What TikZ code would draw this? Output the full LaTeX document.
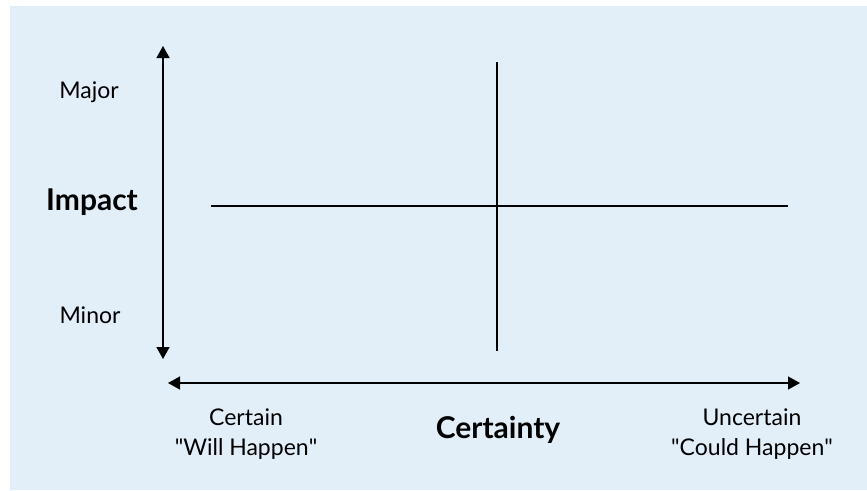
\documentclass[tikz,border=0pt]{standalone}
\usepackage{fontspec}
\setmainfont{Lato}
\usetikzlibrary{arrows.meta}
\definecolor{bgblue}{HTML}{E2EEF8}
\begin{document}
\begin{tikzpicture}[x=1pt,y=-1pt,
  tip/.style={-{Triangle[length=12pt,width=13pt]}},
  axisline/.style={line width=1.4pt, {Triangle[length=12pt,width=13pt]}-{Triangle[length=12pt,width=13pt]}},
  crossline/.style={line width=1.4pt},
  smalllabel/.style={font=\fontsize{23}{30}\selectfont, align=center, inner sep=0pt},
  biglabel/.style={font=\fontsize{30}{32}\selectfont\bfseries, inner sep=0pt}]
\useasboundingbox (0,0) rectangle (867,490);
\fill[bgblue] (10,6) rectangle (867,490);
% axes
\coordinate (vtop) at (163,46);
\coordinate (vbot) at (163,359);
\coordinate (hleft) at (168,383);
\coordinate (hright) at (800,383);
\draw[axisline] (vtop) -- (vbot);
\draw[axisline] (hleft) -- (hright);
% cross
\coordinate (ctop) at (497,62);
\coordinate (cbot) at (497,351);
\coordinate (cleft) at (211,206);
\coordinate (cright) at (788,206);
\draw[crossline] (ctop) -- (cbot);
\draw[crossline] (cleft) -- (cright);
% labels
\node[smalllabel] (major) at (89,92) {Major};
\node[biglabel] (impact) at (92,202) {Impact};
\node[smalllabel] (minor) at (90,315) {Minor};
\node[smalllabel] (certain) at (246,434) {Certain\\\textquotedbl Will Happen\textquotedbl};
\node[biglabel] (certainty) at (498,430) {Certainty};
\node[smalllabel] (uncertain) at (752,434) {Uncertain\\\textquotedbl Could Happen\textquotedbl};
\end{tikzpicture}
\end{document}
